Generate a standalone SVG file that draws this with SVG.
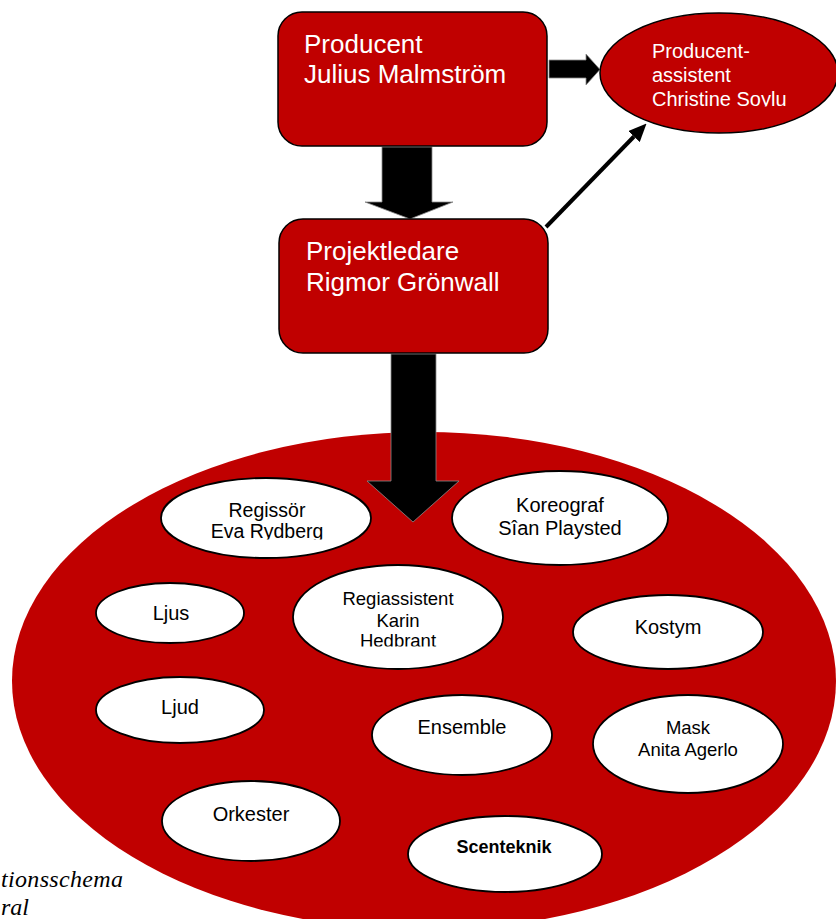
<svg xmlns="http://www.w3.org/2000/svg" width="836" height="919" viewBox="0 0 836 919">
<style>
  .box { fill: #C00000; stroke: #000; stroke-width: 1.5; }
  .boxtxt { font-family: "Liberation Sans", Arial, sans-serif; font-size: 26px; fill: #fff; }
  .asstxt { font-family: "Liberation Sans", Arial, sans-serif; font-size: 20px; fill: #fff; }
  .oval { fill: #fff; stroke: #000; stroke-width: 1.8; }
  .t { font-family: "Liberation Sans", Arial, sans-serif; font-size: 20px; fill: #000; text-anchor: middle; }
  .t18 { font-size: 18.5px; }
  .bold { font-weight: bold; font-size: 18px; }
  .block { fill: #000; stroke: #8a8a8a; stroke-width: 0.8; }
  .thin { stroke: #000; stroke-width: 4; fill: none; }
  .cap { font-family: "Liberation Serif", "Times New Roman", serif; font-style: italic; font-size: 24px; fill: #000; }
</style>
<defs>
  <marker id="ah" markerWidth="4.5" markerHeight="4" refX="0" refY="2" orient="auto" markerUnits="strokeWidth">
    <path d="M0,0 L4.5,2 L0,4 z" fill="#000"/>
  </marker>
  <clipPath id="clipSoylu"><rect x="600" y="0" width="236" height="106.5"/></clipPath>
  <clipPath id="clipEva"><rect x="150" y="470" width="240" height="69.5"/></clipPath>
  <clipPath id="clipHed"><rect x="290" y="560" width="220" height="86.5"/></clipPath>
</defs>

<g id="team-area">
  <ellipse cx="424" cy="681" rx="412" ry="249" fill="#C00000"/>
</g>

<g id="connectors">
  <polygon class="block" points="382,147 432,147 432,202 453,202 410,219 365,202 382,202"/>
  <polygon class="block" points="549,60 586,60 586,54 600,69.5 586,85 586,78 549,78"/>
  <polygon class="block" points="391,354 436,354 436,481 459,481 413,522 367,481 391,481"/>
  <line class="thin" x1="546" y1="227" x2="634" y2="136.5" marker-end="url(#ah)"/>
</g>

<g id="producent">
  <rect class="box" x="278" y="12" width="269" height="134" rx="24" ry="24"/>
  <text class="boxtxt" x="304" y="53">Producent</text>
  <text class="boxtxt" x="304" y="83">Julius Malmström</text>
</g>

<g id="producentassistent">
  <ellipse class="box" cx="719" cy="73" rx="119" ry="60"/>
  <text class="asstxt" x="652" y="58">Producent-</text>
  <text class="asstxt" x="652" y="82">assistent</text>
  <text class="asstxt" x="652" y="106" clip-path="url(#clipSoylu)">Christine Soylu</text>
</g>

<g id="projektledare">
  <rect class="box" x="279" y="219" width="269" height="134" rx="24" ry="24"/>
  <text class="boxtxt" x="306" y="260">Projektledare</text>
  <text class="boxtxt" x="306" y="291">Rigmor Grönwall</text>
</g>

<g id="regissor">
  <ellipse class="oval" cx="266" cy="518" rx="105" ry="40"/>
  <text class="t" x="267" y="517" style="font-size:19.5px">Regissör</text>
  <text class="t" x="267" y="537.5" style="font-size:19.5px" clip-path="url(#clipEva)">Eva Rydberg</text>
</g>

<g id="koreograf">
  <ellipse class="oval" cx="560" cy="518" rx="108" ry="47"/>
  <text class="t" x="560" y="512">Koreograf</text>
  <text class="t" x="560" y="535">Sîan Playsted</text>
</g>

<g id="ljus">
  <ellipse class="oval" cx="170" cy="613" rx="74" ry="30"/>
  <text class="t" x="171" y="620">Ljus</text>
</g>

<g id="regiassistent">
  <ellipse class="oval" cx="398" cy="617" rx="105" ry="52"/>
  <text class="t t18" x="398" y="605">Regiassistent</text>
  <text class="t t18" x="398" y="627">Karin</text>
  <text class="t t18" x="398" y="647" clip-path="url(#clipHed)">Hedbrant</text>
</g>

<g id="kostym">
  <ellipse class="oval" cx="668" cy="632" rx="95" ry="37"/>
  <text class="t" x="668" y="634">Kostym</text>
</g>

<g id="ljud">
  <ellipse class="oval" cx="180" cy="710" rx="84" ry="33"/>
  <text class="t" x="180" y="714">Ljud</text>
</g>

<g id="ensemble">
  <ellipse class="oval" cx="462" cy="735" rx="90" ry="40"/>
  <text class="t" x="462" y="734">Ensemble</text>
</g>

<g id="mask">
  <ellipse class="oval" cx="688" cy="744" rx="95" ry="49"/>
  <text class="t t18" x="688" y="734">Mask</text>
  <text class="t t18" x="688" y="756">Anita Agerlo</text>
</g>

<g id="orkester">
  <ellipse class="oval" cx="251" cy="821" rx="89" ry="40"/>
  <text class="t" x="251" y="821">Orkester</text>
</g>

<g id="scenteknik">
  <ellipse class="oval" cx="505" cy="854" rx="97" ry="38"/>
  <text class="t bold" x="504" y="853">Scenteknik</text>
</g>

<g id="caption">
  <text class="cap" x="1" y="887" textLength="122" lengthAdjust="spacing">tionsschema</text>
  <text class="cap" x="1" y="915">ral</text>
</g>
</svg>
